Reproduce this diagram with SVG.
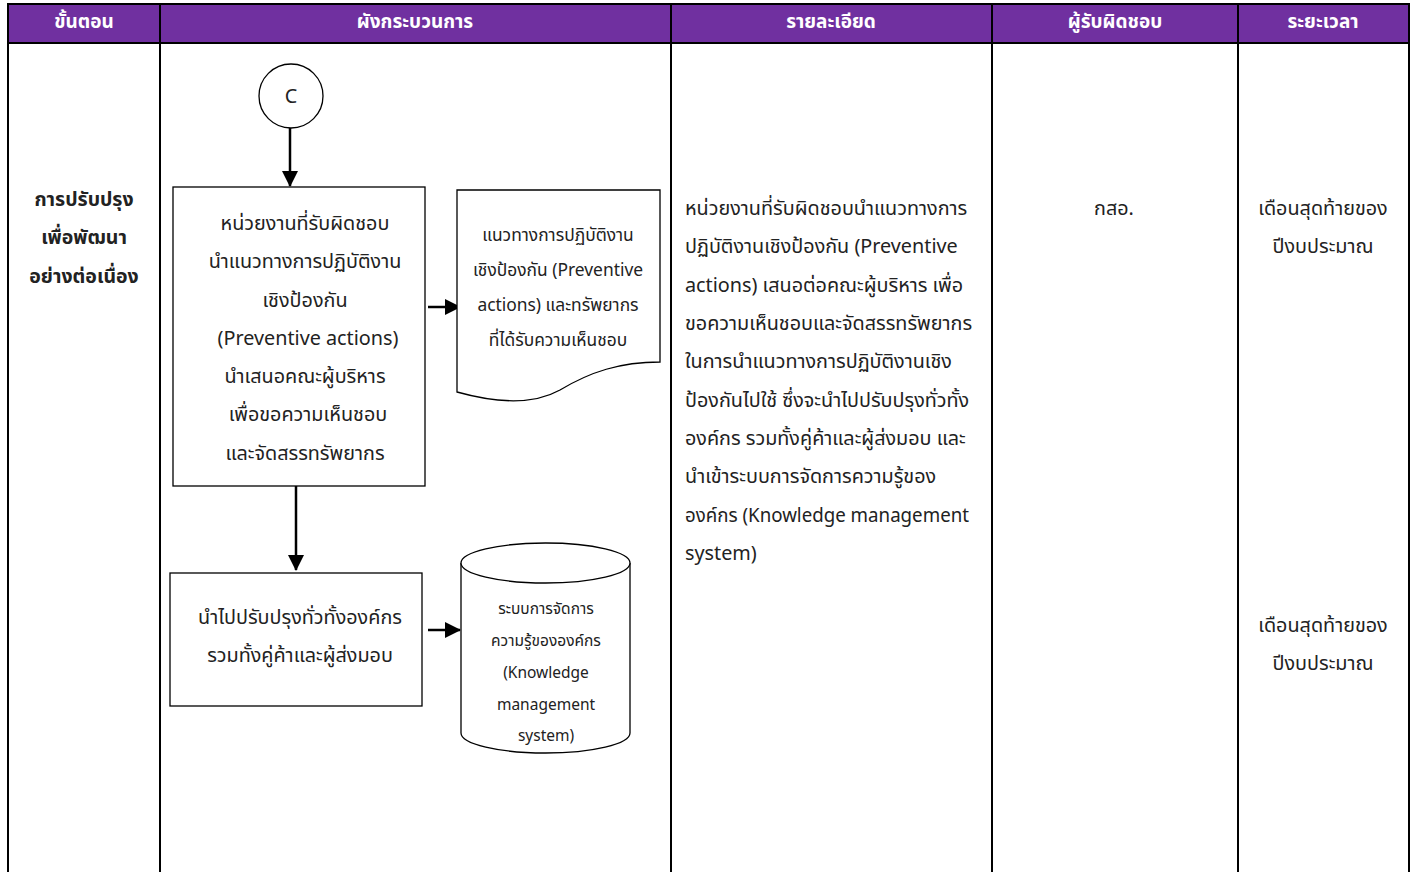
<svg xmlns="http://www.w3.org/2000/svg" width="1418" height="872" viewBox="0 0 1418 872">
<style>
text{font-family:"Noto Sans Thai","Noto Sans","DejaVu Sans",sans-serif;fill:#222}
.h{fill:#fff;font-weight:bold;font-size:19px;text-anchor:middle}
.c{text-anchor:middle}
.b{font-size:19.8px}
.s{font-size:17.4px}
.xs{font-size:15.5px}
.bold{font-weight:bold;font-size:19.5px;text-anchor:middle}
.shape{fill:#fff;stroke:#000;stroke-width:1.3}
.grid{stroke:#000;stroke-width:2;fill:none}
.conn{stroke:#000;stroke-width:2.5;fill:none}
</style>
<defs>
<marker id="ah" markerWidth="16" markerHeight="16" refX="15" refY="8" orient="auto" markerUnits="userSpaceOnUse" viewBox="0 0 16 16">
<path d="M0,0 L16,8 L0,16 z" fill="#000"/>
</marker>
</defs>
<rect x="0" y="0" width="1418" height="872" fill="#fff"/>
<g id="table">
<rect x="8" y="4" width="1401" height="39" fill="#7030A0"/>
<path class="grid" d="M8,872 V4 H1409 V872 M8,43 H1409 M160,4 V872 M671,4 V872 M992,4 V872 M1238,4 V872"/>
<text class="h" x="84" y="28">ขั้นตอน</text>
<text class="h" x="415" y="28">ผังกระบวนการ</text>
<text class="h" x="831" y="28">รายละเอียด</text>
<text class="h" x="1115" y="28">ผู้รับผิดชอบ</text>
<text class="h" x="1323" y="28">ระยะเวลา</text>
</g>
<g id="step">
<text class="bold" x="84" y="206">การปรับปรุง</text>
<text class="bold" x="84" y="244">เพื่อพัฒนา</text>
<text class="bold" x="84" y="283">อย่างต่อเนื่อง</text>
</g>
<g id="connectors">
<line class="conn" x1="290" y1="128" x2="290" y2="186" marker-end="url(#ah)"/>
<line class="conn" x1="428" y1="307" x2="460" y2="307" marker-end="url(#ah)"/>
<line class="conn" x1="296" y1="486" x2="296" y2="570" marker-end="url(#ah)"/>
<line class="conn" x1="428" y1="630" x2="460" y2="630" marker-end="url(#ah)"/>
</g>
<g id="node-c">
<circle class="shape" cx="291" cy="96" r="32"/>
<text class="c b" x="291" y="103">C</text>
</g>
<g id="node-propose">
<rect class="shape" x="173" y="187" width="252" height="299"/>
<text class="c b" x="305" y="230">หน่วยงานที่รับผิดชอบ</text>
<text class="c b" x="305" y="268">นำแนวทางการปฏิบัติงาน</text>
<text class="c b" x="305" y="307">เชิงป้องกัน</text>
<text class="c b" x="308" y="345">(Preventive actions)</text>
<text class="c b" x="305" y="383">นำเสนอคณะผู้บริหาร</text>
<text class="c b" x="308" y="421">เพื่อขอความเห็นชอบ</text>
<text class="c b" x="305" y="460">และจัดสรรทรัพยากร</text>
</g>
<g id="node-doc">
<path class="shape" d="M457,190 H660 V362 C620,362 590,372 560,390 C535,404 500,404 457,392 Z"/>
<text class="c s" x="558" y="241">แนวทางการปฏิบัติงาน</text>
<text class="c s" x="558" y="276">เชิงป้องกัน (Preventive</text>
<text class="c s" x="558" y="311">actions) และทรัพยากร</text>
<text class="c s" x="558" y="346">ที่ได้รับความเห็นชอบ</text>
</g>
<g id="node-apply">
<rect class="shape" x="170" y="573" width="252" height="133"/>
<text class="c b" x="300" y="624">นำไปปรับปรุงทั่วทั้งองค์กร</text>
<text class="c b" x="300" y="662">รวมทั้งคู่ค้าและผู้ส่งมอบ</text>
</g>
<g id="node-kms">
<path class="shape" d="M461,563 V733 A84.5,20 0 0 0 630,733 V563 A84.5,20 0 0 0 461,563 Z"/>
<path class="shape" fill="none" d="M461,563 A84.5,20 0 0 0 630,563"/>
<text class="c xs" x="546" y="614">ระบบการจัดการ</text>
<text class="c xs" x="546" y="646">ความรู้ขององค์กร</text>
<text class="c xs" x="546" y="678">(Knowledge</text>
<text class="c xs" x="546" y="710">management</text>
<text class="c xs" x="546" y="741">system)</text>
</g>
<g id="detail">
<text class="b" x="685" y="215">หน่วยงานที่รับผิดชอบนำแนวทางการ</text>
<text class="b" x="685" y="253">ปฏิบัติงานเชิงป้องกัน (Preventive</text>
<text class="b" x="685" y="292">actions) เสนอต่อคณะผู้บริหาร เพื่อ</text>
<text class="b" x="685" y="330">ขอความเห็นชอบและจัดสรรทรัพยากร</text>
<text class="b" x="685" y="368">ในการนำแนวทางการปฏิบัติงานเชิง</text>
<text class="b" x="685" y="407">ป้องกันไปใช้ ซึ่งจะนำไปปรับปรุงทั่วทั้ง</text>
<text class="b" x="685" y="445">องค์กร รวมทั้งคู่ค้าและผู้ส่งมอบ และ</text>
<text class="b" x="685" y="483">นำเข้าระบบการจัดการความรู้ของ</text>
<text class="b" x="685" y="522" textLength="284" lengthAdjust="spacingAndGlyphs">องค์กร (Knowledge management</text>
<text class="b" x="685" y="560">system)</text>
</g>
<g id="resp">
<text class="c b" x="1114" y="215">กสอ.</text>
</g>
<g id="time">
<text class="c b" x="1323" y="215">เดือนสุดท้ายของ</text>
<text class="c b" x="1323" y="253">ปีงบประมาณ</text>
<text class="c b" x="1323" y="632">เดือนสุดท้ายของ</text>
<text class="c b" x="1323" y="670">ปีงบประมาณ</text>
</g>
</svg>
